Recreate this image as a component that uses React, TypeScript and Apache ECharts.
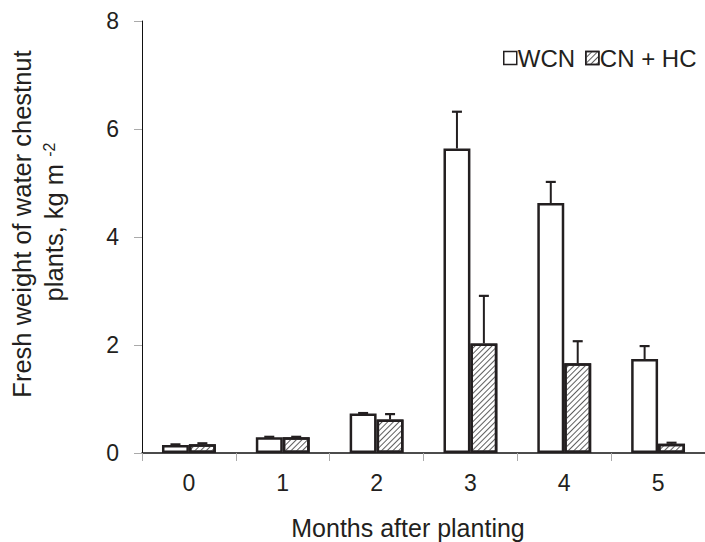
import React, { useEffect, useRef } from "react";
import * as echarts from "echarts";

const months = ["0", "1", "2", "3", "4", "5"];
const wcnValues = [0.15, 0.29, 0.73, 5.64, 4.63, 1.74];
const wcnErrors = [0.01, 0.01, 0.01, 0.68, 0.39, 0.24];
const hcValues = [0.16, 0.29, 0.62, 2.03, 1.66, 0.17];
const hcErrors = [0.02, 0.01, 0.1, 0.88, 0.41, 0.02];
const yTicks = [0, 2, 4, 6, 8];

const FONT = "'Liberation Sans', Arial, sans-serif";
const TXT = "#231f20";
const EDGE = "#231f20";
const BAR_FRAC = 0.287;

const hatch = {
  symbol: "rect",
  symbolSize: 1,
  dashArrayX: [1, 0],
  dashArrayY: [1, 2.3],
  rotation: -Math.PI / 4,
  color: "#5f5f5f",
  backgroundColor: "#ffffff",
};

function errorSeries(name: string, values: number[], errors: number[], side: number) {
  return {
    type: "custom",
    name: name + " err",
    silent: true,
    z: 5,
    data: values.map((v, i) => [i, v, v + errors[i]]),
    renderItem: (params: any, api: any) => {
      const i = api.value(0);
      const band = api.size([1, 0])[0];
      const off = (side * band * BAR_FRAC) / 2;
      const p0 = api.coord([i, api.value(1)]);
      const p1 = api.coord([i, api.value(2)]);
      const x = p0[0] + off;
      return {
        type: "group",
        children: [
          {
            type: "line",
            shape: { x1: x, y1: p0[1], x2: x, y2: p1[1] },
            style: { stroke: EDGE, lineWidth: 2 },
          },
          {
            type: "line",
            shape: { x1: x - 5, y1: p1[1], x2: x + 5, y2: p1[1] },
            style: { stroke: EDGE, lineWidth: 2.2 },
          },
        ],
      };
    },
  };
}

export default function App() {
  const ref = useRef<HTMLDivElement>(null);
  useEffect(() => {
    if (!ref.current) return;
    const chart = echarts.init(ref.current, null, { renderer: "svg" });
    chart.setOption({
      animation: false,
      backgroundColor: "#ffffff",
      textStyle: { fontFamily: FONT, color: TXT },
      grid: { left: 142, top: 21, width: 564, height: 432 },
      legend: {
        left: 498,
        top: 41,
        itemWidth: 13,
        itemHeight: 13,
        itemGap: 10,
        icon: "rect",
        data: ["WCN", "CN + HC"],
        itemStyle: { borderWidth: 1.5, borderColor: EDGE },
        textStyle: { fontSize: 24, color: TXT, fontFamily: FONT, padding: [0, 0, 0, -4] },
      },
      xAxis: {
        type: "category",
        data: months,
        boundaryGap: true,
        axisLine: { show: true, lineStyle: { color: "#111", width: 1.5 } },
        axisTick: { show: true, length: 8, lineStyle: { color: "#aaaaaa", width: 1 } },
        axisLabel: { fontSize: 23, color: TXT, margin: 18, fontFamily: FONT },
        splitLine: { show: false },
      },
      yAxis: {
        type: "value",
        min: yTicks[0],
        max: yTicks[yTicks.length - 1],
        interval: 2,
        axisLine: { show: true, lineStyle: { color: "#111", width: 1 } },
        axisTick: { show: true, length: 8, lineStyle: { color: "#aaaaaa", width: 1 } },
        axisLabel: { fontSize: 23, color: TXT, margin: 23, fontFamily: FONT },
        splitLine: { show: false },
      },
      series: [
        {
          type: "bar",
          name: "WCN",
          data: wcnValues,
          barWidth: BAR_FRAC * 100 + "%",
          barGap: "0%",
          itemStyle: { color: "#ffffff", borderColor: EDGE, borderWidth: 2.5 },
        },
        {
          type: "bar",
          name: "CN + HC",
          data: hcValues,
          barWidth: BAR_FRAC * 100 + "%",
          barGap: "0%",
          itemStyle: { color: "#ffffff", borderColor: EDGE, borderWidth: 2.5, decal: hatch },
        },
        errorSeries("WCN", wcnValues, wcnErrors, -1),
        errorSeries("CN + HC", hcValues, hcErrors, 1),
      ],
      graphic: [
        {
          type: "text",
          x: 22,
          y: 224,
          rotation: Math.PI / 2,
          style: {
            text: "Fresh weight of water chestnut",
            fontSize: 25.5,
            fontFamily: FONT,
            fill: TXT,
            align: "center",
            verticalAlign: "middle",
          },
        },
        {
          type: "text",
          x: 54,
          y: 222,
          rotation: Math.PI / 2,
          style: {
            text: "plants, kg m {sup|-2}",
            fontSize: 25.5,
            fontFamily: FONT,
            fill: TXT,
            align: "center",
            verticalAlign: "middle",
            rich: {
              sup: { fontSize: 16, fontFamily: FONT, fill: TXT, verticalAlign: "top", padding: [0, 0, 10, 0] },
            },
          },
        },
        {
          type: "text",
          x: 408,
          y: 528,
          style: {
            text: "Months after planting",
            fontSize: 25,
            fontFamily: FONT,
            fill: TXT,
            align: "center",
            verticalAlign: "middle",
          },
        },
      ],
    });
    return () => chart.dispose();
  }, []);
  return <div ref={ref} style={{ width: 705, height: 542, position: "absolute", left: 0, top: 0 }} />;
}
